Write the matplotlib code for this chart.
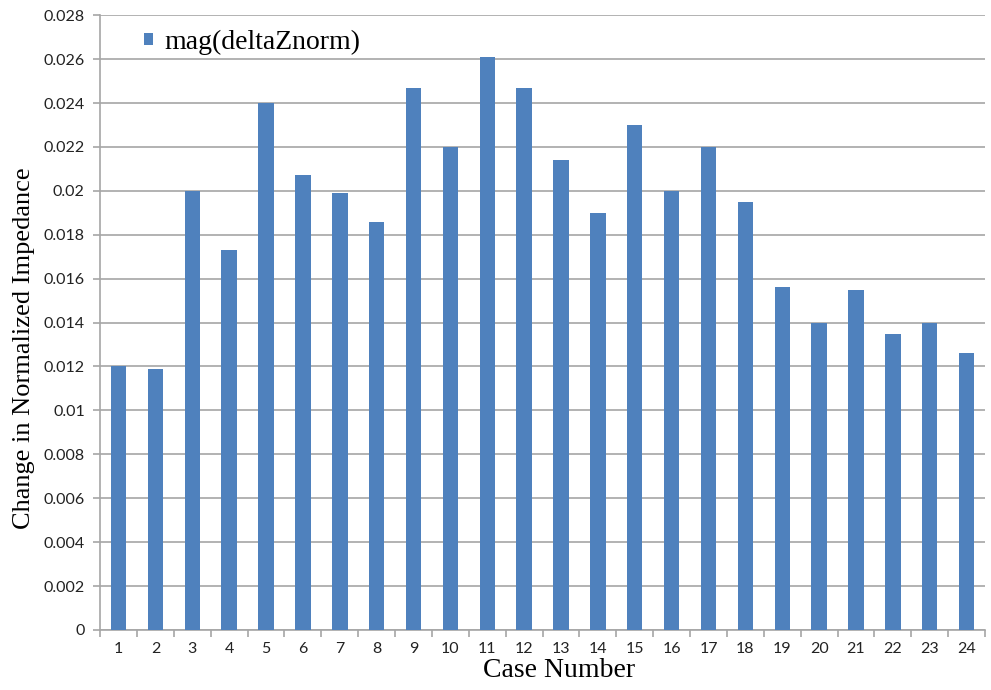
import matplotlib
matplotlib.use("Agg")
import matplotlib.pyplot as plt
import numpy as np

cases = list(range(1, 25))
delta_z = [0.0120, 0.0119, 0.0200, 0.0173, 0.0240, 0.0207, 0.0199, 0.0186,
           0.0247, 0.0220, 0.0261, 0.0247, 0.0214, 0.0190, 0.0230, 0.0200,
           0.0220, 0.0195, 0.0156, 0.0140, 0.0155, 0.0135, 0.0140, 0.0126]
y_ticks = [0, 0.002, 0.004, 0.006, 0.008, 0.01, 0.012, 0.014,
           0.016, 0.018, 0.02, 0.022, 0.024, 0.026, 0.028]
y_tick_labels = ["0", "0.002", "0.004", "0.006", "0.008", "0.01", "0.012", "0.014",
                 "0.016", "0.018", "0.02", "0.022", "0.024", "0.026", "0.028"]

fig = plt.figure(figsize=(9.91, 6.90), dpi=100)
ax = fig.add_axes([0.101, 0.087, 0.893, 0.891])

grid_c = "#a6a6a6"
ax.bar(cases, delta_z, width=0.42, color="#4f81bd", zorder=3, label="mag(deltaZnorm)")

ax.set_xlim(0.5, 24.5)
ax.set_ylim(0, 0.028)
ax.set_yticks(y_ticks)
ax.set_yticklabels(y_tick_labels)
ax.yaxis.grid(True, color=grid_c, linewidth=1.2, zorder=0)

ax.set_xticks(cases)
ax.set_xticklabels([str(c) for c in cases])
ax.set_xticks(np.arange(0.5, 25.0, 1.0), minor=True)
ax.tick_params(axis="x", which="major", length=0, pad=9)
ax.tick_params(axis="x", which="minor", length=5, color=grid_c, width=1.2)
ax.tick_params(axis="y", length=5, color=grid_c, width=1.2, pad=6)

for lab in ax.get_xticklabels() + ax.get_yticklabels():
    lab.set_fontfamily("Lato")
    lab.set_fontsize(11.5)
    lab.set_color("#222222")

for side in ("top", "right"):
    ax.spines[side].set_visible(False)
for side in ("left", "bottom"):
    ax.spines[side].set_color(grid_c)
    ax.spines[side].set_linewidth(1.2)

ax.set_xlabel("Case Number", fontfamily="Liberation Serif", fontsize=20)
ax.xaxis.set_label_coords(0.519, -0.045)
ax.set_ylabel("Change in Normalized Impedance", fontfamily="Liberation Serif", fontsize=19)
ax.yaxis.set_label_coords(-0.073, 0.459)

leg = ax.legend(loc="upper left", bbox_to_anchor=(0.026, 1.01), frameon=False,
                prop={"family": "Liberation Serif", "size": 20},
                handlelength=0.32, handleheight=0.32, handletextpad=0.4,
                borderpad=0.25)
leg.set_zorder(5)

fig.savefig("out.png", dpi=100, facecolor="white")
